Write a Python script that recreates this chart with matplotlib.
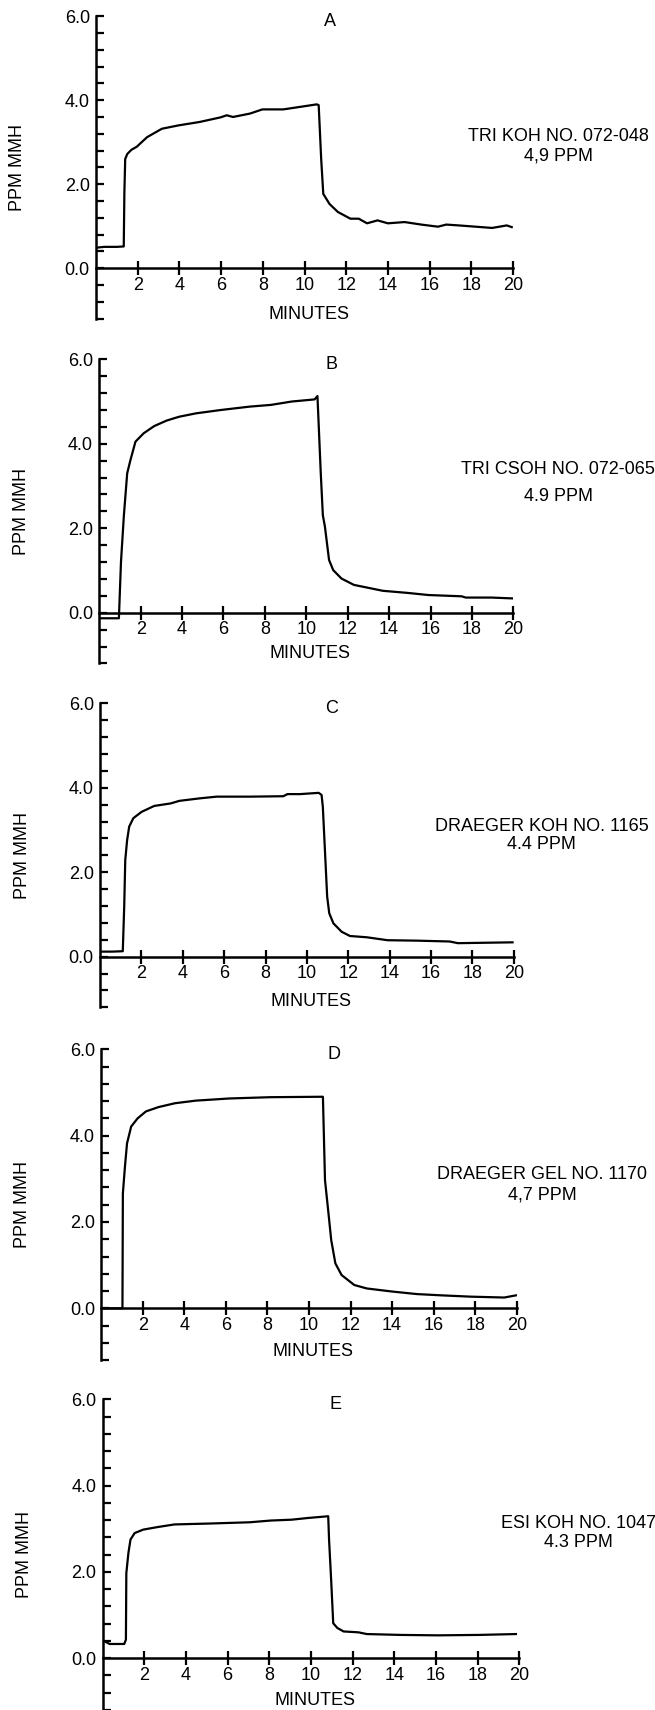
import matplotlib
matplotlib.use("Agg")
import matplotlib.pyplot as plt
from matplotlib.ticker import MultipleLocator, FixedLocator, FormatStrFormatter

plt.rcParams['font.family'] = ['Liberation Sans', 'DejaVu Sans']

# Traces (minutes, ppm MMH)
t_a = [0, 0.4, 1.0, 1.33, 1.36, 1.4, 1.5, 1.7, 1.95, 2.45, 3.16, 3.96, 4.96, 5.97, 6.27,
       6.57, 7.38, 7.98, 8.98, 9.79, 10.59, 10.68, 10.8, 10.9, 11.2, 11.6, 12.2, 12.6,
       13.0, 13.5, 14.0, 14.8, 15.6, 16.4, 16.8, 17.4, 18.2, 19.0, 19.7, 19.94]
ppm_a = [0.49, 0.51, 0.51, 0.52, 1.8, 2.6, 2.72, 2.82, 2.89, 3.12, 3.32, 3.40, 3.48, 3.59, 3.64,
         3.60, 3.68, 3.78, 3.78, 3.84, 3.90, 3.88, 2.6, 1.77, 1.53, 1.34, 1.18, 1.18,
         1.07, 1.14, 1.07, 1.10, 1.04, 0.99, 1.04, 1.02, 0.99, 0.96, 1.02, 0.98]

t_b = [0, 0.5, 0.95, 1.05, 1.19, 1.35, 1.5, 1.55, 1.75, 2.15, 2.66, 3.26, 3.86, 4.67, 5.88,
       7.28, 8.29, 9.3, 10.4, 10.54, 10.7, 10.8, 10.9, 11.1, 11.3, 11.7, 12.3, 12.9, 13.7,
       14.9, 15.9, 17.5, 17.7, 18.95, 19.96]
ppm_b = [-0.13, -0.13, -0.13, 1.2, 2.3, 3.3, 3.6, 3.69, 4.05, 4.25, 4.42, 4.55, 4.64, 4.72, 4.80,
         4.88, 4.92, 5.0, 5.05, 5.13, 3.30, 2.31, 2.04, 1.25, 1.01, 0.81, 0.66, 0.60, 0.52,
         0.47, 0.42, 0.39, 0.36, 0.36, 0.34]

t_c = [0, 0.6, 1.1, 1.17, 1.22, 1.31, 1.41, 1.61, 2.01, 2.62, 3.42, 3.83, 4.83, 5.64, 7.25,
       8.86, 9.06, 9.67, 10.57, 10.71, 10.77, 10.98, 11.08, 11.28, 11.68, 12.08, 12.89,
       13.9, 15.3, 16.9, 17.3, 19.94]
ppm_c = [0.12, 0.12, 0.13, 1.2, 2.29, 2.76, 3.08, 3.28, 3.43, 3.57, 3.63, 3.69, 3.75, 3.79, 3.79,
         3.80, 3.85, 3.85, 3.88, 3.83, 3.55, 1.42, 1.03, 0.79, 0.59, 0.49, 0.46,
         0.39, 0.38, 0.36, 0.32, 0.34]

t_d = [0, 0.6, 1.02, 1.04, 1.14, 1.24, 1.44, 1.75, 2.15, 2.75, 3.55, 4.55, 6.16, 8.16, 10.67,
       10.77, 10.97, 11.07, 11.27, 11.57, 12.18, 12.78, 13.98, 15.19, 16.39, 17.79, 19.4, 19.96]
ppm_d = [0.0, 0.0, 0.0, 2.66, 3.28, 3.82, 4.21, 4.40, 4.56, 4.66, 4.75, 4.81, 4.86, 4.89, 4.90,
         2.97, 2.05, 1.58, 1.04, 0.77, 0.54, 0.46, 0.39, 0.33, 0.30, 0.27, 0.25, 0.30]

t_e = [0, 0.1, 0.34, 1.04, 1.12, 1.14, 1.24, 1.34, 1.54, 1.95, 2.65, 3.45, 5.06, 7.06, 8.06,
       9.07, 9.87, 10.83, 10.87, 10.97, 11.07, 11.27, 11.57, 12.28, 12.68, 14.28, 16.09,
       18.09, 19.84]
ppm_e = [0.39, 0.39, 0.33, 0.33, 0.43, 1.97, 2.44, 2.75, 2.90, 2.98, 3.04, 3.10, 3.12, 3.15, 3.19,
         3.21, 3.25, 3.29, 2.75, 1.82, 0.81, 0.70, 0.62, 0.60, 0.56, 0.54, 0.53,
         0.54, 0.56]

letters = ["A", "B", "C", "D", "E"]
samplers = ["TRI KOH NO. 072-048", "TRI CSOH NO. 072-065", "DRAEGER KOH NO. 1165",
            "DRAEGER GEL NO. 1170", "ESI KOH NO. 1047"]
concs = ["4,9 PPM", "4.9 PPM", "4.4 PPM", "4,7 PPM", "4.3 PPM"]
series = [(t_a, ppm_a), (t_b, ppm_b), (t_c, ppm_c), (t_d, ppm_d), (t_e, ppm_e)]

# axes placement (figure fractions) and label placement (data coords)
rects = [[0.1466, 0.8136, 0.6366, 0.1770],
         [0.1515, 0.6120, 0.6322, 0.1779],
         [0.1527, 0.4109, 0.6317, 0.1778],
         [0.1546, 0.2046, 0.6343, 0.1818],
         [0.1566, 0.0000, 0.6362, 0.1817]]
note_x = [22.16, 22.16, 21.34, 21.24, 22.83]
note_y = [(3.14, 2.66), (3.38, 2.75), (3.08, 2.66), (3.09, 2.62), (3.12, 2.67)]
minutes_y = [-1.09, -0.96, -1.07, -1.0, -0.97]

fig = plt.figure(figsize=(6.55, 17.10), dpi=100)
fs = 13

for i in range(5):
    ax = fig.add_axes(rects[i])
    t, ppm = series[i]
    ax.plot(t, ppm, color='black', lw=1.6, solid_joinstyle='round')

    ax.set_xlim(0, 20)
    ax.set_ylim(-1.2, 6.0)
    ax.spines['top'].set_visible(False)
    ax.spines['right'].set_visible(False)
    ax.spines['bottom'].set_position(('data', 0))
    ax.spines['left'].set_linewidth(1.8)
    ax.spines['bottom'].set_linewidth(1.8)

    ax.set_xticks(range(2, 21, 2))
    ax.tick_params(axis='x', direction='inout', length=9.5, width=1.6, pad=1.5, labelsize=fs)
    ax.yaxis.set_major_locator(FixedLocator([0, 2, 4, 6]))
    ax.yaxis.set_minor_locator(MultipleLocator(0.4))
    ax.yaxis.set_major_formatter(FormatStrFormatter('%.1f'))
    ax.tick_params(axis='y', which='both', direction='in', length=5.5, width=1.6,
                   pad=4.5, labelsize=fs)

    ax.set_ylabel("PPM MMH", fontsize=fs)
    ax.yaxis.set_label_coords(-0.168, 0.5)

    ax.text(11.2, 5.87, letters[i], ha='center', va='center', fontsize=fs)
    ax.text(10.2, minutes_y[i], "MINUTES", ha='center', va='center', fontsize=fs)
    ax.text(note_x[i], note_y[i][0], samplers[i], ha='center', va='center',
            fontsize=fs, clip_on=False)
    ax.text(note_x[i], note_y[i][1], concs[i], ha='center', va='center',
            fontsize=fs, clip_on=False)

plt.savefig("out.png", dpi=100)
